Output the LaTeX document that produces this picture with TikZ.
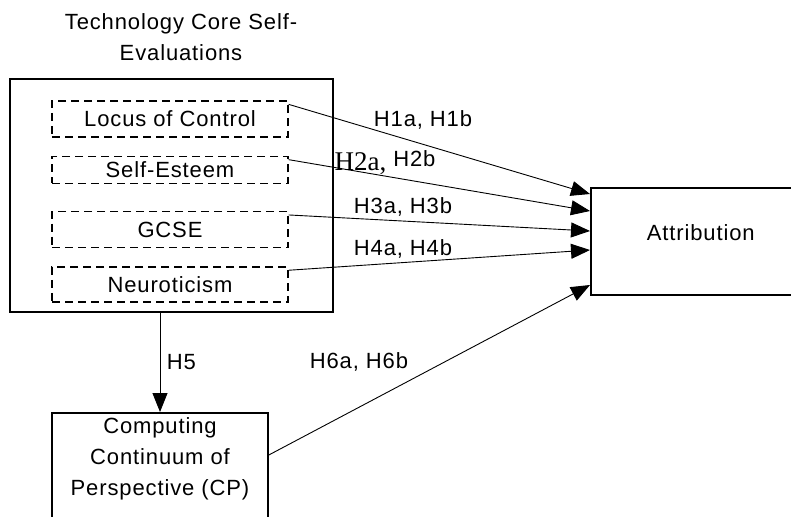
\documentclass[tikz,border=0pt]{standalone}
\usepackage{fontspec}
\setmainfont{Liberation Sans}[LetterSpace=4]
\newfontfamily\timesfont{Liberation Serif}
\usetikzlibrary{arrows.meta, positioning}

\tikzset{
  outerbox/.style={draw, line width=1.6pt, inner sep=0pt},
  factor/.style={draw, dash pattern=on 8pt off 5pt, line width=1.3pt, minimum width=236pt, inner sep=0pt},
  hyp/.style={->, line width=0.9pt},
}

\begin{document}
\begin{tikzpicture}[x=1pt, y=-1pt, >={Triangle[length=19pt, width=15pt]}, font=\fontsize{22}{31}\selectfont]
  \clip (0,0) rectangle (791,516);

  % Nodes
  \node[align=center] (title) at (181,37) {Technology Core Self-\\Evaluations};
  \node[outerbox, minimum width=323pt, minimum height=233pt] (tcse) at (171.5,195.5) {};
  \node[factor, minimum height=36pt] (locus) at (170,119) {Locus of Control};
  \node[factor, minimum height=27pt, below=18pt of locus] (esteem) {Self-Esteem};
  \node[factor, minimum height=36pt, below=27pt of esteem] (gcse) {GCSE};
  \node[factor, minimum height=35pt, below=18pt of gcse] (neuro) {Neuroticism};
  \node[outerbox, minimum width=220pt, minimum height=107pt, anchor=north west,
        label={[yshift=8.5pt]center:Attribution}] (attr) at (590,187) {};
  \node[outerbox, minimum width=216pt, minimum height=130pt, anchor=north,
        label={[anchor=north, yshift=-2pt, align=center]north:{Computing\\Continuum of\\Perspective (CP)}}] (cp) at (160,412) {};

  % Connections
  \draw[hyp] ([yshift=-4pt]locus.north east) -- ([yshift=-7pt]attr.north west);
  \draw[hyp] ([yshift=-4pt]esteem.north east) -- ([yshift=-24pt]attr.north west);
  \draw[hyp] ([yshift=-4pt]gcse.north east) -- ([yshift=-44pt]attr.north west);
  \draw[hyp] ([yshift=-4pt]neuro.north east) -- ([yshift=-63pt]attr.north west);
  \draw[hyp] ([xshift=-11.5pt]tcse.south) -- node[right=3pt] (h5) {H5} (cp.north);
  \draw[hyp] ([yshift=-43pt]cp.north east) -- ([yshift=-98pt]attr.north west);

  % Labels
  \node (h1) at (423,120) {H1a, H1b};
  \node (h2) at (385,163) {\raisebox{-4pt}{\timesfont\fontsize{27}{31}\selectfont H2a,} H2b};
  \node (h3) at (403,207) {H3a, H3b};
  \node (h4) at (403,249) {H4a, H4b};
  \node (h6) at (359,362) {H6a, H6b};
\end{tikzpicture}
\end{document}
